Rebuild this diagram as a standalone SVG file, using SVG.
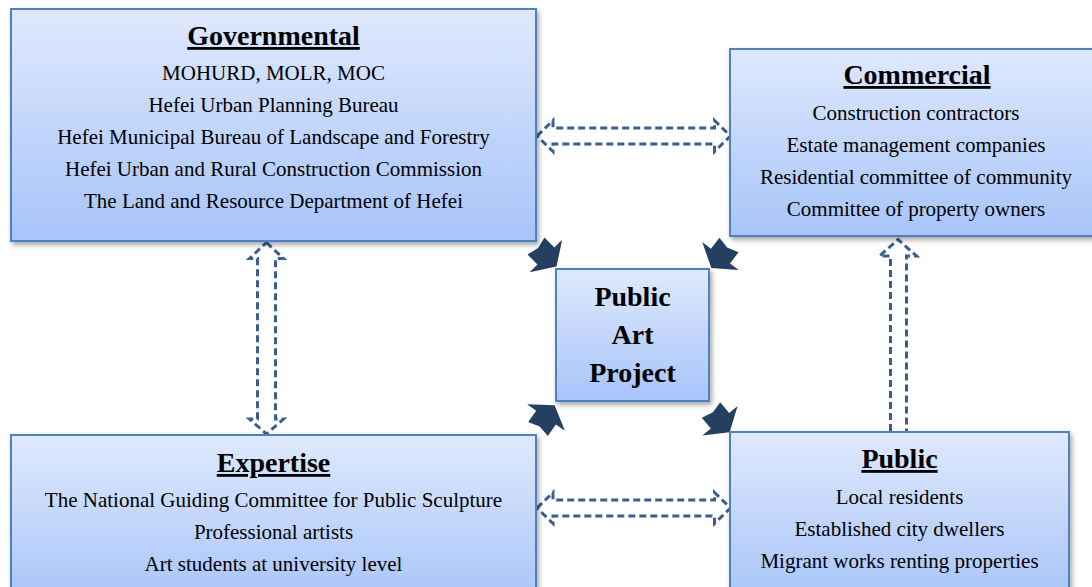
<svg xmlns="http://www.w3.org/2000/svg" width="1092" height="587" viewBox="0 0 1092 587">
  <defs>
    <linearGradient id="boxFill" x1="0" y1="0" x2="0" y2="1">
      <stop offset="0" stop-color="#dfe9fd"/>
      <stop offset="1" stop-color="#a7c4f9"/>
    </linearGradient>
    <filter id="shadow" x="-10%" y="-10%" width="120%" height="130%">
      <feDropShadow dx="2" dy="3" stdDeviation="2.5" flood-color="#000" flood-opacity="0.35"/>
    </filter>
    <!-- notched block arrow pointing along +x, tail at origin -->
    <path id="blockArrow" d="M0,-12 L14,-12 L14,-23 L29,0 L14,23 L14,12 L0,12 L3,0 Z"/>
  </defs>
  <style>
    .box { fill: url(#boxFill); stroke: #4f81bd; stroke-width: 2; filter: url(#shadow); }
    .title { font-family: "Liberation Serif", "Times New Roman", serif; font-size: 28px; font-weight: bold; text-anchor: middle; fill: #000; text-decoration: underline; }
    .center { font-family: "Liberation Serif", "Times New Roman", serif; font-size: 28px; font-weight: bold; text-anchor: middle; fill: #000; }
    .body { font-family: "Liberation Serif", "Times New Roman", serif; font-size: 21px; text-anchor: middle; fill: #000; }
    .dash { fill: #fff; stroke: #3a5f8f; stroke-width: 3; stroke-dasharray: 7 4; stroke-linejoin: miter; }
    .block { fill: #243f60; }
  </style>

  <rect width="1092" height="587" fill="#fff"/>

  <g id="connectors">
    <!-- Governmental <-> Commercial -->
    <path class="dash" d="M537,136 L553,120.5 V128 H714.5 V120.5 L730.5,136 L714.5,151.5 V144 H553 V151.5 Z"/>
    <!-- Expertise <-> Public -->
    <path class="dash" d="M537,508 L553,492.5 V500 H714.5 V492.5 L730.5,508 L714.5,523.5 V516 H553 V523.5 Z"/>
    <!-- Governmental <-> Expertise -->
    <path class="dash" d="M266.5,242.5 L283.5,258.5 H275.5 V419 H283.5 L266.5,434 L249.5,419 H257.5 V258.5 H249.5 Z"/>
    <!-- Public -> Commercial -->
    <path class="dash" d="M890.5,431 V256 H879.5 L898,239.5 L916.5,256 H906.5 V431"/>
    <!-- block arrows around the project -->
    <use href="#blockArrow" class="block" transform="translate(536,246) rotate(45)"/>
    <use href="#blockArrow" class="block" transform="translate(729,245) rotate(127.5)"/>
    <use href="#blockArrow" class="block" transform="translate(538,429) rotate(-55)"/>
    <use href="#blockArrow" class="block" transform="translate(711,410) rotate(50)"/>
  </g>

  <g id="governmental">
    <rect class="box" x="11" y="9" width="525" height="232"/>
    <text class="title" x="273.5" y="45">Governmental</text>
    <text class="body" x="273.5" y="80">MOHURD, MOLR, MOC</text>
    <text class="body" x="273.5" y="112">Hefei Urban Planning Bureau</text>
    <text class="body" x="273.5" y="144">Hefei Municipal Bureau of Landscape and Forestry</text>
    <text class="body" x="273.5" y="176">Hefei Urban and Rural Construction Commission</text>
    <text class="body" x="273.5" y="208">The Land and Resource Department of Hefei</text>
  </g>

  <g id="commercial">
    <rect class="box" x="730" y="49" width="372" height="187"/>
    <text class="title" x="917" y="84">Commercial</text>
    <text class="body" x="916" y="120">Construction contractors</text>
    <text class="body" x="916" y="152">Estate management companies</text>
    <text class="body" x="916" y="184">Residential committee of community</text>
    <text class="body" x="916" y="216">Committee of property owners</text>
  </g>

  <g id="project">
    <rect class="box" x="556" y="269" width="153" height="132"/>
    <text class="center" x="632.5" y="306">Public</text>
    <text class="center" x="632.5" y="344">Art</text>
    <text class="center" x="632.5" y="382">Project</text>
  </g>

  <g id="expertise">
    <rect class="box" x="11" y="435" width="525" height="170"/>
    <text class="title" x="273.5" y="472">Expertise</text>
    <text class="body" x="273.5" y="507">The National Guiding Committee for Public Sculpture</text>
    <text class="body" x="273.5" y="539">Professional artists</text>
    <text class="body" x="273.5" y="571">Art students at university level</text>
  </g>

  <g id="public">
    <rect class="box" x="730" y="432" width="339" height="170"/>
    <text class="title" x="899.5" y="468">Public</text>
    <text class="body" x="899.5" y="504">Local residents</text>
    <text class="body" x="899.5" y="536">Established city dwellers</text>
    <text class="body" x="899.5" y="568">Migrant works renting properties</text>
  </g>
</svg>
